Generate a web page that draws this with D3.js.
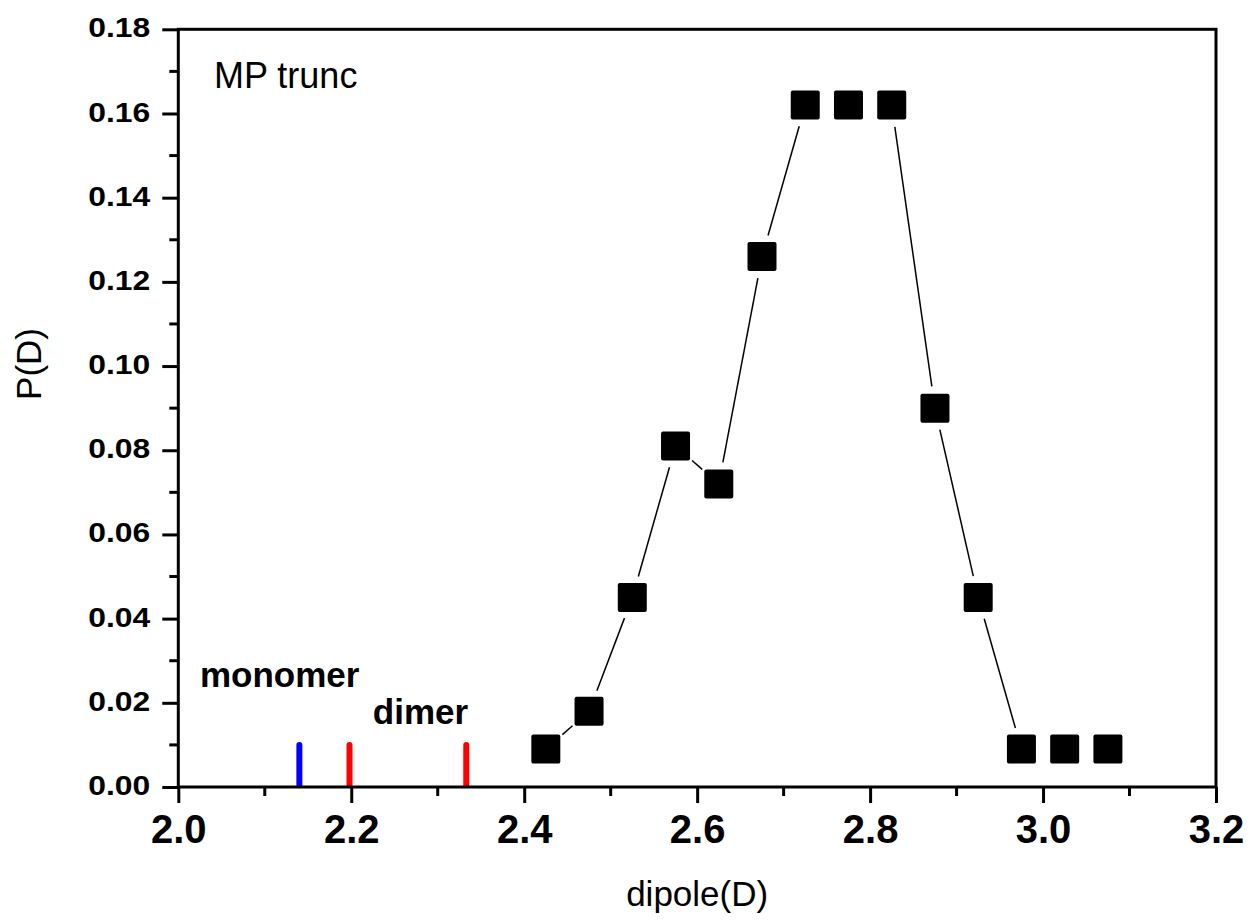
<!DOCTYPE html>
<html>
<head>
<meta charset="utf-8">
<script src="https://cdn.jsdelivr.net/npm/d3@7"></script>
<style>
  html, body { margin: 0; padding: 0; background: #fff; }
  svg { display: block; font-family: "Liberation Sans", Arial, Helvetica, sans-serif; }
</style>
</head>
<body>
<svg id="chart" width="1251" height="924"></svg>
<script>
// ---- data ----
const dipole = [2.425, 2.475, 2.525, 2.575, 2.625, 2.675, 2.725, 2.775, 2.825, 2.875, 2.925, 2.975, 3.025, 3.075];
const prob   = [0.009, 0.018, 0.045, 0.081, 0.072, 0.126, 0.162, 0.162, 0.162, 0.090, 0.045, 0.009, 0.009, 0.009];
const refDipole = [2.14, 2.198, 2.333];
const refKind   = ["monomer", "dimer", "dimer"];
const refHeight = 0.01;
const xTicks = [2.0, 2.2, 2.4, 2.6, 2.8, 3.0, 3.2];
const yTicks = [0.00, 0.02, 0.04, 0.06, 0.08, 0.10, 0.12, 0.14, 0.16, 0.18];
const xMinor = [2.1, 2.3, 2.5, 2.7, 2.9, 3.1];
const yMinor = [0.01, 0.03, 0.05, 0.07, 0.09, 0.11, 0.13, 0.15, 0.17];
const labelText = ["monomer", "dimer"];
const labelX    = [2.025, 2.225];
const labelY    = [0.0238, 0.0150];

// ---- layout ----
const W = 1251, H = 924;
const L = 178.3, R = 1216, T = 29.3, B = 787;
const svg = d3.select("#chart");

const x = d3.scaleLinear().domain([2.0, 3.2]).range([L, R]);
const y = d3.scaleLinear().domain([0, 0.18]).range([B, T]);

const refColor = { monomer: "#0000ff", dimer: "#ff0000" };

// connecting lines with gaps around markers
const pts = dipole.map((d, i) => [x(d), y(prob[i])]);
const gap = 22;
const segs = [];
for (let i = 0; i < pts.length - 1; i++) {
  const [x1, y1] = pts[i], [x2, y2] = pts[i + 1];
  const dx = x2 - x1, dy = y2 - y1, len = Math.hypot(dx, dy);
  if (len <= 2 * gap) continue;
  const ux = dx / len, uy = dy / len;
  segs.push([x1 + ux * gap, y1 + uy * gap, x2 - ux * gap, y2 - uy * gap]);
}
svg.append("g").selectAll("line").data(segs).join("line")
  .attr("x1", d => d[0]).attr("y1", d => d[1])
  .attr("x2", d => d[2]).attr("y2", d => d[3])
  .attr("stroke", "#000").attr("stroke-width", 1.5);

// reference sticks
svg.append("g").selectAll("line").data(refDipole).join("line")
  .attr("x1", d => x(d)).attr("x2", d => x(d))
  .attr("y1", y(0) - 2).attr("y2", y(refHeight))
  .attr("stroke", (d, i) => refColor[refKind[i]])
  .attr("stroke-width", 6).attr("stroke-linecap", "round");

// markers
const ms = 29;
svg.append("g").selectAll("rect").data(dipole).join("rect")
  .attr("x", d => x(d) - ms / 2)
  .attr("y", (d, i) => y(prob[i]) - ms / 2)
  .attr("width", ms).attr("height", ms)
  .attr("rx", 2).attr("ry", 2)
  .attr("fill", "#000");

// frame
svg.append("rect")
  .attr("x", L).attr("y", T).attr("width", R - L).attr("height", B - T)
  .attr("fill", "none").attr("stroke", "#000").attr("stroke-width", 3);

// x axis
const gx = svg.append("g").attr("transform", `translate(0,${B})`)
  .call(d3.axisBottom(x).tickValues(xTicks).tickFormat(d3.format(".1f"))
    .tickSize(16).tickPadding(12).tickSizeOuter(0));
gx.select(".domain").remove();
gx.selectAll(".tick line").attr("stroke-width", 3);
gx.selectAll(".tick text")
  .attr("font-size", 40).attr("font-weight", "bold").attr("fill", "#000")
  .attr("font-family", "Liberation Sans, Arial, sans-serif");
svg.append("g").selectAll("line").data(xMinor).join("line")
  .attr("x1", d => x(d)).attr("x2", d => x(d))
  .attr("y1", B).attr("y2", B + 9)
  .attr("stroke", "#000").attr("stroke-width", 3);

// y axis
const gy = svg.append("g").attr("transform", `translate(${L},0)`)
  .call(d3.axisLeft(y).tickValues(yTicks).tickFormat(d3.format(".2f"))
    .tickSize(16).tickPadding(12).tickSizeOuter(0));
gy.select(".domain").remove();
gy.selectAll(".tick line").attr("stroke-width", 3);
gy.selectAll(".tick text")
  .attr("font-size", 28).attr("font-weight", "bold").attr("fill", "#000")
  .attr("font-family", "Liberation Sans, Arial, sans-serif")
  .attr("dy", "0.27em")
  .attr("textLength", 62).attr("lengthAdjust", "spacingAndGlyphs");
svg.append("g").selectAll("line").data(yMinor).join("line")
  .attr("x1", L).attr("x2", L - 9)
  .attr("y1", d => y(d)).attr("y2", d => y(d))
  .attr("stroke", "#000").attr("stroke-width", 3);

// axis titles
svg.append("text")
  .attr("x", (L + R) / 2).attr("y", 906)
  .attr("text-anchor", "middle").attr("font-size", 35).attr("fill", "#000")
  .text("dipole(D)");
svg.append("text")
  .attr("transform", `translate(41,364) rotate(-90)`)
  .attr("text-anchor", "middle").attr("font-size", 35).attr("fill", "#000")
  .text("P(D)");

// in-plot labels
svg.append("text")
  .attr("x", 214).attr("y", 88)
  .attr("font-size", 36).attr("fill", "#000")
  .text("MP trunc");
svg.append("g").selectAll("text").data(labelText).join("text")
  .attr("x", (d, i) => x(labelX[i]))
  .attr("y", (d, i) => y(labelY[i]))
  .attr("font-size", 35).attr("font-weight", "bold").attr("fill", "#000")
  .text(d => d);
</script>
</body>
</html>
